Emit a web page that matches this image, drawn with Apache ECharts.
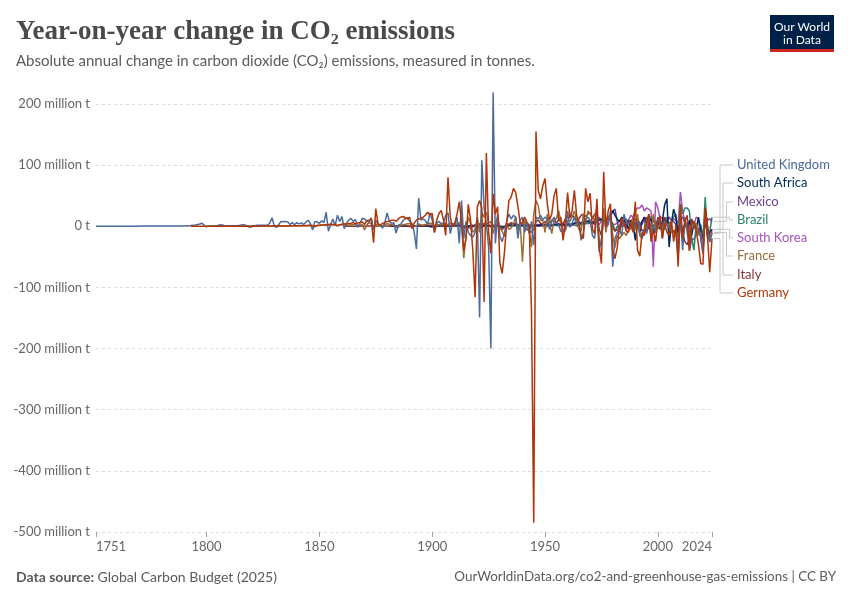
<!DOCTYPE html>
<html><head><meta charset="utf-8">
<script src="https://cdn.jsdelivr.net/npm/echarts@6/dist/echarts.min.js"></script>
<style>html,body{margin:0;padding:0;background:#fff}#c{width:850px;height:600px}</style>
</head><body><div id="c"></div>
<script>
// ---- DATA (million tonnes of CO2, year-on-year change) ----
const countries = ['United Kingdom','South Africa','Mexico','Brazil','South Korea','France','Italy','Germany'];
const xTickYears = [1751,1800,1850,1900,1950,2000,2024];

const ukStart = 1751;
const ukValues = [
0.1,0.1,0.1,0.1,0.1,0.1,0.1,0.1,0.1,0.2,
0.2,0.2,0.2,0.2,0.2,0.2,0.2,0.2,0.2,0.3,
0.3,0.3,0.3,0.3,0.3,0.3,0.3,0.3,0.3,0.4,
0.4,0.4,0.4,0.4,0.5,0.5,0.5,0.5,0.6,0.6,
0.8,1.0,1.2,1.5,2.0,2.8,3.8,5.0,1.5,-0.8,
0.5,0.3,0.6,1.0,1.5,2.5,2.0,0.8,0.6,0.8,
0.8,0.9,1.0,1.2,1.8,2.5,2.0,0.5,-1.5,-0.8,
1.0,1.5,1.5,1.6,1.8,1.8,2.0,5.0,14.0,1.0,
-2.0,3.0,8.0,7.5,8.0,7.0,3.0,6.0,2.5,6.0,
4.0,5.5,3.0,6.5,10.0,4.5,-6.0,8.0,7.0,5.0,
9.0,6.0,23.0,-8.0,3.0,12.0,1.0,18.0,8.0,16.0,
-4.0,5.0,10.0,13.0,8.0,11.0,-2.0,5.0,13.0,12.0,
9.0,6.0,14.0,-6.0,10.0,4.0,2.0,-3.0,6.0,22.0,
8.0,5.0,6.0,-11.0,2.0,3.0,9.0,12.0,14.0,8.0,
5.0,-9.0,-37.0,46.0,10.0,12.0,9.0,3.0,22.0,10.0,
-10,5,8,4,6,18,22,-12,5,2,
15,-28,42,-20,8,-10,-15,-18,-10,12,
-149,108,30,5,-34,-200,219,-28,20,-17,
-25,-12,8,20,12,18,15,-20,10,15,
-10,5,-12,8,-31,15,12,18,10,15,
12,-5,8,15,5,3,-8,-10,-5,25,
-2,5,15,3,10,-23,-10,12,15,10,
-15,-20,25,-42,-20,10,8,2,25,-66,
-20,-10,-5,-15,20,5,3,5,-5,5,
8,-15,-20,-5,-10,20,-20,3,-10,8,
10,-20,8,2,-3,-3,-10,-12,-52,18,
-39,15,-10,-40,-20,-22,-12,-8,-15,-42,
20,-10,-26,-12];

const germanyStart = 1793;
const germanyValues = [
0.1,0.1,0.1,0.1,0.1,0.1,0.1,0.1,
0.1,0.1,0.1,0.1,0.1,0.1,0.1,0.1,0.1,0.1,
0.1,0.1,0.1,0.1,0.1,0.2,0.2,0.2,0.2,0.2,
0.2,0.2,0.2,0.3,0.3,0.3,0.3,0.3,0.4,0.4,
0.4,0.4,0.4,0.5,0.5,0.6,0.6,0.7,0.7,0.8,
0.8,0.9,1.0,1.0,1.1,1.2,1.0,0.5,1.5,1.8,
2.0,2.2,2.5,3.0,3.5,3.0,2.8,1.5,2.0,3.5,
4.0,3.5,4.5,5.0,6.0,4.0,5.5,6.0,7.0,3.0,
9.0,10.0,12.0,-27.0,29.0,4.0,2.0,5.0,6.0,8.0,
8,10,10,8,12,15,16,14,12,15,
-4,5,10,12,13,15,18,23,18,21,
-10,10,21,26,10,-15,80,15,-1,5,
20,40,7,-39,-20,36,10,-40,-116,32,
42,30,-124,120,-10,-44,53,20,32,-60,
-77,-44,5,42,48,62,55,32,5,6,
15,6,2,-140,-485,155,59,45,66,78,
37,10,20,50,62,10,15,-23,5,55,
15,25,59,18,5,-17,-20,62,40,54,
-5,-12,45,-34,-61,89,-1,25,37,-40,
-53,-35,0,13,5,-8,-10,5,-10,40,
-39,-49,-10,-15,5,20,-25,-5,-25,8,
17,-20,5,-10,-15,10,-25,2,-66,35,
-20,8,18,-40,5,8,-8,-30,-61,-62,
29,-15,-75,-20];

const franceStart = 1802;
const franceValues = [
0.1,0.1,0.1,0.1,0.1,0.1,0.1,0.1,0.1,
0.1,0.1,0.1,0.1,0.2,0.2,0.2,0.2,0.2,0.3,
0.3,0.3,0.3,0.3,0.4,0.4,0.4,0.4,0.5,0.5,
0.5,0.5,0.6,0.6,0.7,0.8,0.8,0.9,1.0,1.0,
1.0,1.2,1.2,1.3,1.4,1.5,1.2,-1.0,0.8,1.5,
1.8,2.0,2.5,2.0,3.0,2.5,1.5,0.8,2.5,3.0,
2.5,1.5,2.0,2.5,3.0,2.0,1.5,2.0,3.0,-6.0,
2.0,6.0,4.0,-2.0,4.0,1.0,0.5,1.0,3.0,4.0,
3.5,3.0,2.0,-1.5,-1.5,1.0,3.0,3.0,4.0,4.0,
3.0,-1.0,0.5,4.0,2.0,2.0,3.0,4.0,5.0,4.5,
-4,1,3,2,4,5,2,6,1,3,
4,6,5,-52,-15,15,5,-10,-5,15,
-10,23,15,23,5,8,-12,5,15,-3,
-8,-17,3,-5,-3,5,15,-8,5,-58,
10,0,-5,-34,20,42,34,10,10,-10,
20,5,-12,10,12,26,8,-5,-8,10,
8,15,25,10,-5,-8,20,5,25,20,
15,10,30,-25,-30,30,-10,15,20,-15,
-35,-15,-20,-15,-10,-15,-5,-5,15,-5,
20,-10,-20,-5,8,15,-10,20,-2,-5,
5,-8,5,2,3,-10,-10,-5,-20,8,
-25,5,2,-30,5,2,5,-15,-10,-35,
25,-10,-20,-10];

const italyStart = 1861;
const italyValues = [
0.1,0.1,0.1,0.2,0.2,0.2,0.2,0.2,0.3,0.3,
0.3,0.3,0.3,0.4,0.4,0.4,0.5,0.5,0.5,0.6,
0.6,0.8,0.7,0.9,0.5,0.8,1.0,0.9,0.5,-0.5,
0.5,0.5,0.8,0.5,0.8,1.0,1.2,1.5,1.5,2.0,
1.0,2.0,1.5,2.5,2.0,3.0,2.5,1.5,2.0,2.5,
2.0,3.0,4.0,-2.0,-3.0,-2.0,-3.0,-1.0,2.0,-3.0,
4.0,3.0,4.0,5.0,3.0,-1.0,2.0,-3.0,4.0,-2.0,
-5.0,-2.0,4.0,3.0,6.0,3.0,5.0,-1.0,6.0,3.0,
-3.0,-5.0,-8.0,-10.0,-5.0,8.0,10.0,5.0,3.0,8.0,
5,6,10,8,6,10,8,4,12,15,
14,18,15,10,12,18,20,16,20,22,
12,20,22,-5,-15,22,-5,12,10,-2,
-8,-5,-8,5,0,3,10,5,12,3,
-2,3,-8,-5,15,-5,3,10,5,0,
3,2,15,5,3,-5,-8,-8,-35,10,
-10,-25,-30,-20,12,-2,-5,-4,-10,-38,
30,2,-20,-10];

const mexicoStart = 1891;
const mexicoValues = [
0.1,0.1,0.1,0.1,0.2,0.2,0.2,0.3,0.3,0.5,
0.5,0.5,0.6,0.6,0.8,0.8,1.0,1.0,0.8,1.2,
1.0,0.5,-0.5,-1.0,0.5,1.0,1.2,1.5,2.0,2.5,
3.0,2.5,1.5,0.5,1.0,0.8,-1.0,-0.5,0.5,0.5,
-0.5,-1.0,0.5,1.0,1.5,1.5,2.0,0.5,1.5,1.0,
2.0,2.0,1.5,2.0,1.5,2.0,3.0,2.5,2.5,3.0,
3.0,2.0,1.0,3.0,4.0,5.0,3.0,2.0,4.0,5.0,
3.0,2.0,5.0,6.0,4.0,6.0,8.0,7.0,9.0,10.0,
6.0,10.0,12.0,14.0,10.0,8.0,10.0,15.0,18.0,25.0,
28.0,8.0,-10.0,8.0,12.0,-5.0,8.0,3.0,15.0,10.0,
12.0,5.0,3.0,15.0,-12.0,8.0,12.0,15.0,-5.0,15.0,
3.0,2.0,12.0,5.0,15.0,10.0,8.0,3.0,-10.0,12.0,
15.0,5.0,-5.0,-10.0,5.0,3.0,-5.0,-8.0,-10.0,-30.0,
20.0,10.0,12.0,8.0];

const southAfricaStart = 1881;
const southAfricaValues = [
0.05,0.05,0.05,0.1,0.1,0.1,0.1,0.1,0.2,0.2,
0.2,0.3,0.3,0.4,0.5,0.5,0.5,0.5,-0.5,-1.0,
0.5,1.0,1.0,1.5,1.0,0.5,0.5,0.5,1.0,1.0,
1.0,1.0,0.5,-0.5,0.5,1.0,1.0,0.5,0.5,1.0,
-1.0,-2.0,2.0,1.0,1.0,1.0,1.5,1.0,1.0,-0.5,
-1.0,-1.0,1.5,2.0,2.0,2.5,2.0,2.0,1.5,2.0,
2.0,1.0,1.0,0.5,1.5,1.5,1.0,2.0,2.0,3.0,
3.0,2.0,2.0,3.0,3.0,2.0,3.0,3.0,2.0,3.0,
3.0,4.0,5.0,5.0,5.0,6.0,5.0,7.0,8.0,6.0,
5.0,6.0,8.0,10.0,12.0,10.0,8.0,12.0,15.0,26.0,
18.0,12.0,8.0,15.0,10.0,5.0,-5.0,10.0,5.0,-23.0,
5.0,-10.0,8.0,15.0,10.0,5.0,12.0,-5.0,-10.0,8.0,
-5.0,8.0,35.0,45.0,-34.0,5.0,28.0,15.0,-15.0,10.0,
-10.0,5.0,-5.0,10.0,-15.0,5.0,-5.0,15.0,-5.0,-25.0,
10.0,-15.0,-10.0,-5.0];

const brazilStart = 1901;
const brazilValues = [
0.1,0.1,0.1,0.1,0.1,0.2,0.2,0.2,0.2,0.3,
0.3,0.3,0.3,-0.3,-0.3,0.2,0.2,0.3,0.5,0.5,
0.5,0.5,0.5,0.5,0.5,0.5,0.5,0.5,0.5,-0.5,
-0.5,0.2,0.5,0.5,0.5,0.5,0.5,0.5,0.5,0.3,
0.3,-0.5,0.5,0.5,0.8,1.0,1.0,1.0,1.5,1.5,
2.0,1.5,1.0,2.5,1.0,1.5,1.5,2.0,1.5,2.0,
2.0,3.0,2.0,1.0,0.5,4.0,3.0,5.0,4.0,6.0,
6.0,8.0,12.0,10.0,8.0,10.0,8.0,12.0,10.0,5.0,
-8.0,0.0,-5.0,5.0,10.0,12.0,5.0,2.0,3.0,-5.0,
5.0,3.0,8.0,8.0,12.0,15.0,15.0,8.0,8.0,5.0,
10.0,-2.0,-5.0,15.0,5.0,5.0,15.0,20.0,-15.0,37.0,
20.0,30.0,30.0,25.0,-20.0,-39.0,5.0,-15.0,3.0,-20.0,
48.0,-20.0,-10.0,15.0];

const southKoreaStart = 1946;
const southKoreaValues = [
0.5,0.5,0.3,0.5,-0.5,
-0.5,1.0,1.0,1.5,1.5,1.5,1.0,0.5,1.0,1.0,
1.0,2.5,2.0,1.5,3.0,3.5,4.0,5.0,5.0,7.0,
5.0,3.0,10.0,3.0,8.0,10.0,12.0,15.0,12.0,3.0,
3.0,5.0,8.0,10.0,12.0,8.0,10.0,18.0,15.0,25.0,
30.0,30.0,35.0,25.0,30.0,28.0,25.0,-66.0,40.0,30.0,
12.0,15.0,10.0,5.0,3.0,8.0,12.0,10.0,5.0,56.0,
25.0,5.0,5.0,-5.0,10.0,2.0,15.0,12.0,-22.0,-45.0,
25.0,-10.0,-25.0,-5.0];

// ---- STYLE / LAYOUT ----
const colorOf = {
  'United Kingdom':'#4C6A9C','South Africa':'#00295B','Mexico':'#6D3E91','Brazil':'#2C8465',
  'South Korea':'#A652BA','France':'#996D39','Italy':'#883039','Germany':'#B13507'
};
const seriesData = {
  'United Kingdom':[ukStart, ukValues], 'Germany':[germanyStart, germanyValues],
  'France':[franceStart, franceValues], 'Italy':[italyStart, italyValues],
  'Mexico':[mexicoStart, mexicoValues], 'South Africa':[southAfricaStart, southAfricaValues],
  'Brazil':[brazilStart, brazilValues], 'South Korea':[southKoreaStart, southKoreaValues]
};
const drawOrder = ['South Korea','Brazil','Mexico','South Africa','Italy','France','United Kingdom','Germany'];
const labelY = [165,183,202,220,238,256,275,293];
const elbowX = [720,723,726.5,729.5,729.5,726.5,723,720];

const chart = echarts.init(document.getElementById('c'));
const FONT = 'Lato';

chart.setOption({
  animation:false,
  backgroundColor:'#fff',
  grid:{left:96, right:138, top:104, bottom:68},
  xAxis:{
    type:'value', min:1751, max:2024,
    axisLine:{show:false, onZero:false},
    splitLine:{show:false},
    axisTick:{show:true, customValues:xTickYears, length:5, lineStyle:{color:'#a0a0a0'}},
    axisLabel:{customValues:xTickYears, color:'#666', fontSize:13, fontFamily:FONT, margin:8,
      alignMinLabel:'left', alignMaxLabel:'right', formatter:v=>String(v)}
  },
  yAxis:{
    type:'value', min:-500, max:200, interval:100,
    axisLine:{show:false}, axisTick:{show:false},
    splitLine:{lineStyle:{color:'#dcdcdc', type:[3,3], width:1}},
    axisLabel:{color:'#666', fontSize:13, fontFamily:FONT, margin:6,
      formatter:v=> v===0 ? '0 t' : v + ' million t'}
  },
  series: drawOrder.map(name=>{
    const [start, vals] = seriesData[name];
    return {
      type:'line', name, symbol:'none', showSymbol:false, clip:false,
      data: vals.map((v,i)=>[start+i, v]),
      lineStyle:{width:1.5, color:colorOf[name]}, itemStyle:{color:colorOf[name]},
      emphasis:{disabled:true}, silent:true
    };
  })
});

const g = [];
// Title, subtitle
g.push({type:'text', style:{x:16, y:32, text:'Year-on-year change in CO\u2082 emissions', fill:'#4a4a4a',
  font:'bold 27px "Liberation Serif"', verticalAlign:'middle'}});
g.push({type:'text', style:{x:16, y:61, text:'Absolute annual change in carbon dioxide (CO\u2082) emissions, measured in tonnes.',
  fill:'#5b5b5b', font:'15px Lato', verticalAlign:'middle'}});
// Logo
g.push({type:'rect', shape:{x:770, y:15, width:64, height:37}, style:{fill:'#002147'}});
g.push({type:'rect', shape:{x:770, y:49, width:64, height:3}, style:{fill:'#ce261e'}});
g.push({type:'text', style:{x:802, y:27, text:'Our World', fill:'#fff', font:'12px Lato', align:'center', verticalAlign:'middle'}});
g.push({type:'text', style:{x:802, y:40, text:'in Data', fill:'#fff', font:'12px Lato', align:'center', verticalAlign:'middle'}});
// Footer
g.push({type:'text', style:{x:16, y:577, text:'{b|Data source:} Global Carbon Budget (2025)', fill:'#5b5b5b',
  font:'14px Lato', verticalAlign:'middle', rich:{b:{fontWeight:'bold', fontFamily:'Lato', fontSize:14, fill:'#5b5b5b'}}}});
g.push({type:'text', style:{x:836, y:577, text:'OurWorldinData.org/co2-and-greenhouse-gas-emissions | CC BY', fill:'#5b5b5b',
  font:'13.4px Lato', align:'right', verticalAlign:'middle'}});
// Line labels with connectors
countries.forEach((name,i)=>{
  const [start, vals] = seriesData[name];
  const lastYear = start + vals.length - 1;
  const p = chart.convertToPixel({gridIndex:0}, [lastYear, vals[vals.length-1]]);
  g.push({type:'polyline', shape:{points:[[p[0]+2,p[1]],[elbowX[i],p[1]],[elbowX[i],labelY[i]],[733,labelY[i]]]},
    style:{stroke:'#c8c8c8', lineWidth:1, fill:null}, z:1});
  g.push({type:'text', style:{x:737, y:labelY[i], text:name, fill:colorOf[name], font:'13px Lato', verticalAlign:'middle'}});
});
chart.setOption({graphic:g});
</script>
</body></html>
